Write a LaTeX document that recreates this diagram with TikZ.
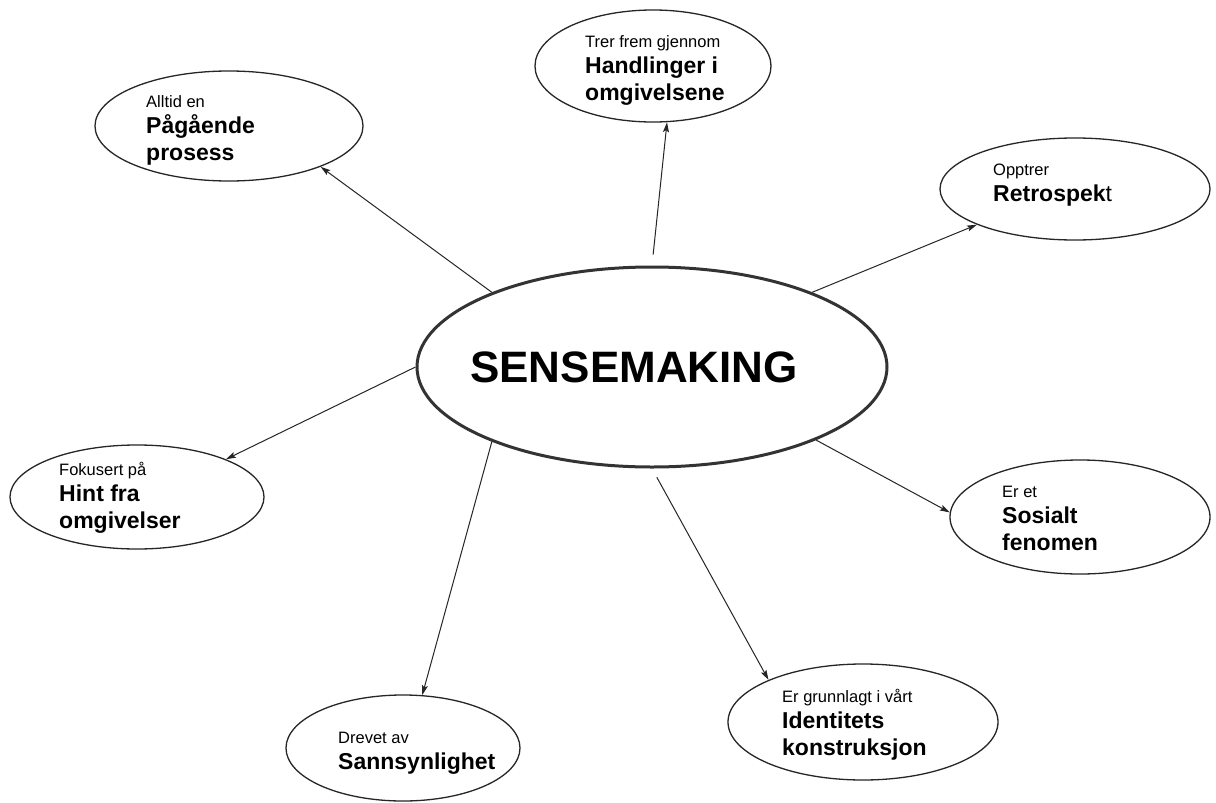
\documentclass[tikz,border=0pt]{standalone}
\usepackage{fontspec}
\setmainfont{Liberation Sans}
\usetikzlibrary{shapes.geometric,arrows.meta}
% one line of small lead-in text, one line of bold key text, and a stack of them
\newcommand\lblsmall[1]{\hbox{\fontsize{16.5}{19}\selectfont #1}}
\newcommand\lblbig[1]{\hbox{\fontsize{23}{27}\selectfont\bfseries #1}}
\newcommand\lblstack[1]{\vtop{\baselineskip=26.5pt\lineskiplimit=-100pt\lineskip=0pt #1}}
\begin{document}
\begin{tikzpicture}[x=1pt,y=-1pt,
  bubble/.style={draw=black!85, ellipse, line width=1.3pt, inner sep=0pt},
  hub/.style={draw=black!80, ellipse, line width=3pt, inner sep=0pt},
  caption/.style={anchor=base west, inner sep=0pt, text=black},
  link/.style={draw=black!85, line width=1pt, -{Stealth[length=10pt,width=6pt,inset=2pt]}}]
\useasboundingbox[fill=white] (0,0) rectangle (1216,803);

% central concept
\node[hub, minimum width=470pt, minimum height=200pt] (main) at (652,367) {};
\node[anchor=base, inner sep=0pt] (main-t) at (634,382)
  {\fontsize{44}{50}\selectfont\bfseries SENSEMAKING};

% surrounding properties
\node[bubble, minimum width=268pt, minimum height=110pt] (pa) at (229,126) {};
\node[bubble, minimum width=236pt, minimum height=112pt] (ha) at (653,66) {};
\node[bubble, minimum width=270pt, minimum height=102pt] (re) at (1075,189) {};
\node[bubble, minimum width=260pt, minimum height=114pt] (so) at (1080,517) {};
\node[bubble, minimum width=270pt, minimum height=116pt] (id) at (863,722) {};
\node[bubble, minimum width=234pt, minimum height=106pt] (sa) at (403,748) {};
\node[bubble, minimum width=254pt, minimum height=104pt] (hi) at (137,497) {};

\node[caption] (pa-t) at (146,107)
  {\lblstack{\lblsmall{Alltid en}\lblbig{Pågående}\lblbig{prosess}}};
\node[caption] (ha-t) at (585,47)
  {\lblstack{\lblsmall{Trer frem gjennom}\lblbig{Handlinger i}\lblbig{omgivelsene}}};
\node[caption] (re-t) at (993,175)
  {\lblstack{\lblsmall{Opptrer}\lblbig{Retrospek\mdseries t}}};
\node[caption] (so-t) at (1002,497)
  {\lblstack{\lblsmall{Er et}\lblbig{Sosialt}\lblbig{fenomen}}};
\node[caption] (id-t) at (782,702)
  {\lblstack{\lblsmall{Er grunnlagt i vårt}\lblbig{Identitets}\lblbig{konstruksjon}}};
\node[caption] (sa-t) at (338,743)
  {\lblstack{\lblsmall{Drevet av}\lblbig{Sannsynlighet}}};
\node[caption] (hi-t) at (59,475)
  {\lblstack{\lblsmall{Fokusert på}\lblbig{Hint fra}\lblbig{omgivelser}}};

% connectors
\draw[link] (main.155.1) -- (pa.-24.1);
\draw[link, shorten <=11pt] (main.90) -- (ha.-76.7);
\draw[link] (main.25.8) -- (re.-160.3);
\draw[link] (main.-24.9) -- (so.178);
\draw[link, shorten <=10pt] (main.-90) -- (id.156.1);
\draw[link] (main.-155) -- (sa.70.6);
\draw[link] (main.180) -- (hi.23.4);
\end{tikzpicture}
\end{document}
